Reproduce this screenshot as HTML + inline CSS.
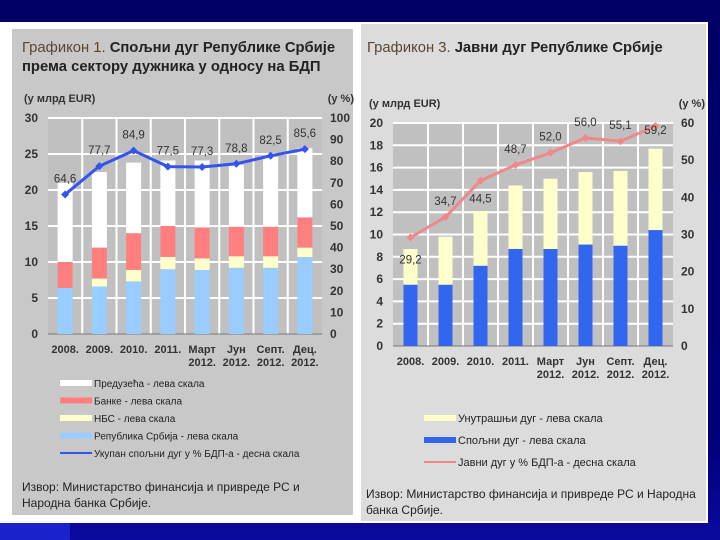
<!DOCTYPE html>
<html><head><meta charset="utf-8"><style>
html,body{margin:0;padding:0;width:720px;height:540px;overflow:hidden;background:#000066;}
svg{display:block;font-family:"Liberation Sans",Arial,sans-serif;}
</style></head><body>
<svg id="s" width="720" height="540" xmlns="http://www.w3.org/2000/svg">
<defs><linearGradient id="bg" x1="0" y1="0" x2="0" y2="1"><stop offset="0" stop-color="#000066"/><stop offset="0.8" stop-color="#000077"/><stop offset="1" stop-color="#0a0aa0"/></linearGradient></defs>
<rect width="720" height="540" fill="url(#bg)"/>
<rect x="0" y="523" width="70" height="17" fill="#1a22cc"/>
<rect x="0" y="22" width="359" height="501" fill="#ffffff"/>
<rect x="12" y="29" width="341" height="486" fill="#c8c8c8"/>
<rect x="359" y="22" width="349" height="501" fill="#ffffff"/>
<rect x="361" y="24" width="345" height="497" fill="#dcdcdc"/>
<text x="22" y="52" font-size="14.8" fill="#222"><tspan fill="#5a4630">Графикон 1.</tspan><tspan font-weight="bold"> Спољни дуг Републике Србије</tspan></text>
<text x="22" y="71" font-size="14.8" font-weight="bold" fill="#222">према сектору дужника у односу на БДП</text>
<text x="367" y="52" font-size="14.8" fill="#222"><tspan fill="#5a4630">Графикон 3.</tspan><tspan font-weight="bold"> Јавни дуг Републике Србије</tspan></text>
<g id="left"></g>
<g id="right"></g>
</svg>
<script>
const cats1 = [["2008.",""],["2009.",""],["2010.",""],["2011.",""],["Март","2012."],["Јун","2012."],["Септ.","2012."],["Дец.","2012."]];
const republic = [6.4, 6.6, 7.3, 9.0, 8.9, 9.2, 9.2, 10.7];
const nbs = [0, 1.1, 1.6, 1.7, 1.6, 1.6, 1.6, 1.3];
const banks = [3.6, 4.3, 5.1, 4.3, 4.3, 4.1, 4.1, 4.2];
const enterprises = [11.0, 10.5, 9.8, 9.1, 9.3, 8.6, 9.7, 9.6];
const debtPct1 = [64.6, 77.7, 84.9, 77.5, 77.3, 78.8, 82.5, 85.6];
const leftTicks1 = [0,5,10,15,20,25,30];
const rightTicks1 = [0,10,20,30,40,50,60,70,80,90,100];

const cats2 = cats1;
const external2 = [5.5, 5.5, 7.2, 8.7, 8.7, 9.1, 9.0, 10.4];
const internal2 = [3.2, 4.3, 4.9, 5.7, 6.3, 6.5, 6.7, 7.3];
const debtPct2 = [29.2, 34.7, 44.5, 48.7, 52.0, 56.0, 55.1, 59.2];
const leftTicks2 = [0,2,4,6,8,10,12,14,16,18,20];
const rightTicks2 = [0,10,20,30,40,50,60];

const NS="http://www.w3.org/2000/svg";
function el(p,t,a,txt){const e=document.createElementNS(NS,t);for(const k in a)e.setAttribute(k,a[k]);if(txt!==undefined)e.textContent=txt;p.appendChild(e);return e;}

function chart(g,o){
  const y=v=>o.bot-(v/o.lmax)*(o.bot-o.top);
  const yr=v=>o.bot-(v/o.rmax)*(o.bot-o.top);
  const bw=(o.x1-o.x0)/o.cats.length;
  const cx=i=>o.x0+bw*(i+0.5);
  let r=el(g,'rect',{x:o.x0,y:o.top,width:o.x1-o.x0,height:o.bot-o.top,fill:o.plotFill});
  
  
  o.lt.forEach(t=>{if(t>0){let l=el(g,'line',{x1:o.x0,x2:o.x1,y1:y(t),y2:y(t),stroke:'#fff','stroke-width':2});}
    let tx=el(g,'text',{x:o.x0-10,y:y(t)+4,'font-size':12,'font-weight':'bold','text-anchor':'end',fill:'#333'},t);
    });
  for(let i=1;i<o.cats.length;i++){let l=el(g,'line',{x1:o.x0+bw*i,x2:o.x0+bw*i,y1:o.top,y2:o.bot,stroke:'#fff','stroke-width':2});}
  o.rt.forEach(t=>{let tx=el(g,'text',{x:o.x1+8,y:yr(t)+4,'font-size':12,'font-weight':'bold',fill:'#333'},t);});
  let ax=el(g,'line',{x1:o.x0,x2:o.x1,y1:o.bot,y2:o.bot,stroke:'#777','stroke-width':1});
  o.cats.forEach((c,i)=>{
    let base=0;
    o.series.forEach(s=>{const v=s.vals[i];if(v>0){let b=el(g,'rect',{x:cx(i)-o.barw/2,y:y(base+v),width:o.barw,height:y(base)-y(base+v),fill:s.color});}base+=v;});
    let t1=el(g,'text',{x:cx(i),y:o.bot+19,'font-size':11,'font-weight':'bold','text-anchor':'middle',fill:'#333'},c[0]);
    if(c[1]){let t2=el(g,'text',{x:cx(i),y:o.bot+32,'font-size':11,'font-weight':'bold','text-anchor':'middle',fill:'#333'},c[1]);}
  });
  let pts=o.line.map((v,i)=>cx(i)+','+yr(v)).join(' ');
  let pl=el(g,'polyline',{points:pts,fill:'none',stroke:o.lineColor,'stroke-width':3});
  o.line.forEach((v,i)=>{
    let m=el(g,'path',{d:`M${cx(i)},${yr(v)-4}l4,4l-4,4l-4,-4z`,fill:o.lineColor});
    let lb=el(g,'text',{x:cx(i)+(o.labDx||0),y:yr(v)+o.labDy(i),'font-size':11.5,'text-anchor':'middle',fill:'#333'},v.toFixed(1).replace('.',','));
  });
  let u1=el(g,'text',{x:o.x0-24,y:o.top-16,'font-size':11,'font-weight':'bold',fill:'#333'},'(у млрд EUR)');
  let u2=el(g,'text',{x:o.x1+32,y:o.top-16,'font-size':11,'font-weight':'bold','text-anchor':'end',fill:'#333'},'(у %)');
  o.legend.forEach((L,i)=>{
    const ly=o.legY+i*o.legStep;
    if(L.line){let a=el(g,'line',{x1:o.legX,x2:o.legX+32,y1:ly,y2:ly,stroke:L.color,'stroke-width':2});}
    else{let a=el(g,'rect',{x:o.legX,y:ly-3,width:32,height:6,fill:L.color});}
    let t=el(g,'text',{x:o.legX+34,y:ly+4,'font-size':o.legFs,fill:'#222'},L.text);
  });
  o.source.forEach((s,i)=>{let t=el(g,'text',{x:o.srcX,y:o.srcY+i*16,'font-size':12,fill:'#222'},s);});
}

chart(document.getElementById('left'),{x0:48,x1:322,top:118,bot:334,lmax:30,rmax:100,barw:15,plotFill:'#c0c0c0',
  cats:cats1,lt:leftTicks1,rt:rightTicks1,lineColor:'#3355ee',line:debtPct1,labDy:i=>-12,
  series:[{name:'republic',vals:republic,color:'#99ccff'},{name:'nbs',vals:nbs,color:'#ffffcc'},{name:'banks',vals:banks,color:'#ff7f7f'},{name:'enterprises',vals:enterprises,color:'#ffffff'}],
  legX:60,legY:383,legStep:17.5,legFs:10,
  legend:[{text:'Предузећа - лева скала',color:'#fff'},{text:'Банке - лева скала',color:'#ff7f7f'},{text:'НБС - лева скала',color:'#ffffcc'},{text:'Република Србија - лева скала',color:'#99ccff'},{text:'Укупан спољни дуг у % БДП-а - десна скала',color:'#3355ee',line:true}],
  srcX:22,srcY:491,source:['Извор: Министарство финансија  и привреде РС и','Народна  банка Србије.']});

chart(document.getElementById('right'),{x0:393,x1:673,top:123,bot:346,lmax:20,rmax:60,barw:14,plotFill:'#c0c0c0',
  cats:cats2,lt:leftTicks2,rt:rightTicks2,lineColor:'#f08888',line:debtPct2,labDy:i=>[26,-12,22,-12,-12,-12,-12,8][i],
  series:[{name:'external',vals:external2,color:'#3366ee'},{name:'internal',vals:internal2,color:'#ffffcc'}],
  legX:424,legY:418,legStep:22,legFs:11,
  legend:[{text:'Унутрашњи дуг - лева скала',color:'#ffffcc'},{text:'Спољни дуг - лева скала',color:'#3366ee'},{text:'Јавни дуг у % БДП-а - десна скала',color:'#f08888',line:true}],
  srcX:366,srcY:498,source:['Извор: Министарство финансија и привреде РС и Народна','банка Србије.']});
</script>
</body></html>
